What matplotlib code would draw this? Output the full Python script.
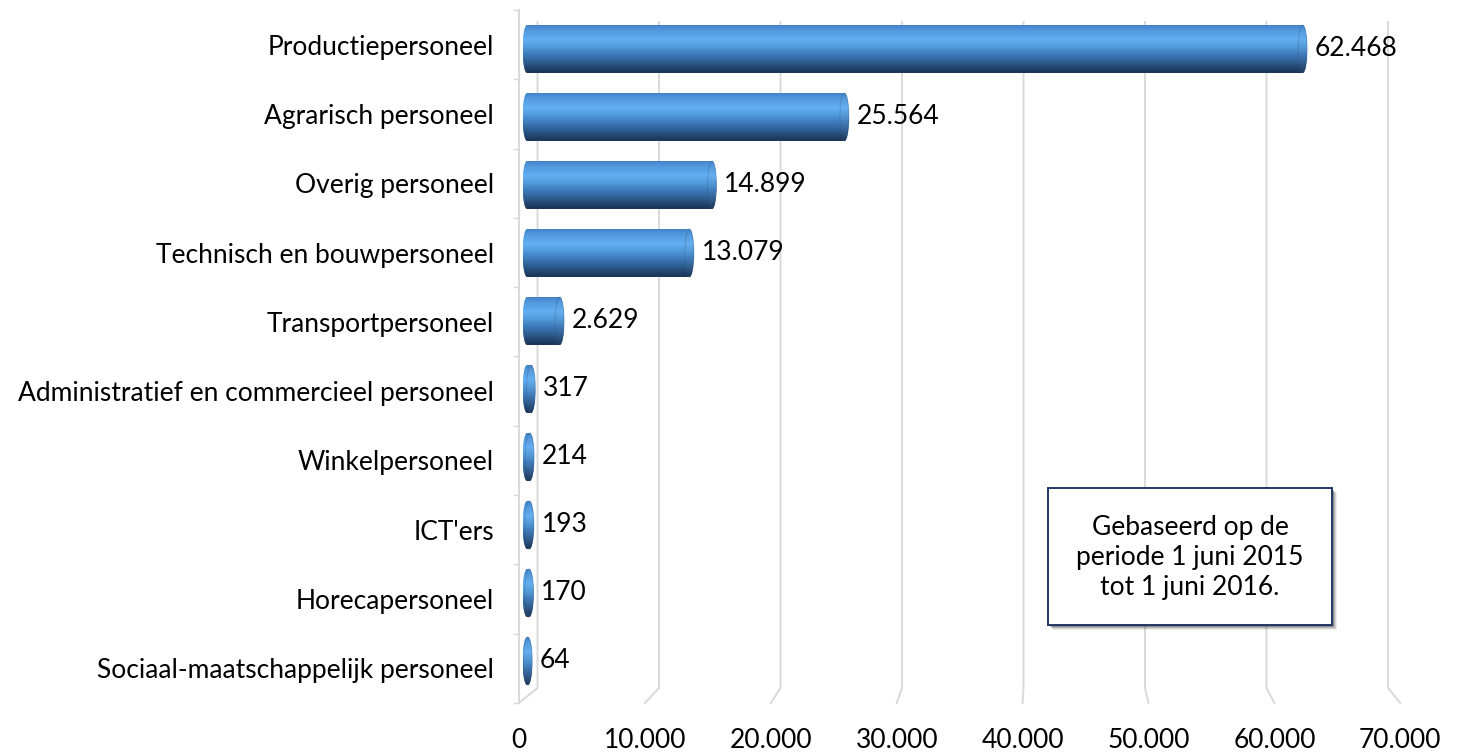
import numpy as np
import matplotlib
matplotlib.use("Agg")
import matplotlib.pyplot as plt
from matplotlib.path import Path
from matplotlib.patches import PathPatch, Ellipse, Rectangle
from matplotlib.colors import to_rgb

# ---------------- data ----------------
categories = [
    "Productiepersoneel",
    "Agrarisch personeel",
    "Overig personeel",
    "Technisch en bouwpersoneel",
    "Transportpersoneel",
    "Administratief en commercieel personeel",
    "Winkelpersoneel",
    "ICT'ers",
    "Horecapersoneel",
    "Sociaal-maatschappelijk personeel",
]
values = [62468, 25564, 14899, 13079, 2629, 317, 214, 193, 170, 64]
x_ticks = [0, 10000, 20000, 30000, 40000, 50000, 60000, 70000]
note_text = "Gebaseerd op de\nperiode 1 juni 2015\ntot 1 juni 2016."


def fmt(v):
    return f"{v:,}".replace(",", ".")


plt.rcParams["font.family"] = ["Lato", "DejaVu Sans"]
FS = 19

W, H = 1470, 752
fig = plt.figure(figsize=(W / 100, H / 100), dpi=100)

# ---------- decoration axes in pixel space (back wall + floor) ----------
axd = fig.add_axes([0, 0, 1, 1], zorder=0)
axd.set_xlim(0, W)
axd.set_ylim(H, 0)
axd.axis("off")

back0, back_k = 537.5, (1388 - 537.5) / 70000
front0, front_k = 519.0, 0.01259
grid_col = "#D9D9D9"
for g in x_ticks:
    xb = back0 + g * back_k
    xf = front0 + g * front_k
    axd.plot([xb, xb, xf], [22, 688, 703], color=grid_col, lw=1.4,
             solid_joinstyle="miter")

# ---------- front axes: category labels, value ticks, left axis ----------
axf = fig.add_axes([front0 / W, (H - 703) / H, (1445 - front0) / W, (703 - 10) / H],
                   zorder=1)
axf.patch.set_visible(False)
axf.set_xlim(0, (1445 - front0) / front_k)
axf.set_ylim(len(categories) - 0.5, -0.5)
for s in ["top", "right", "bottom"]:
    axf.spines[s].set_visible(False)
axf.spines["left"].set_color(grid_col)
axf.spines["left"].set_linewidth(1.4)
axf.set_yticks(range(len(categories)))
axf.set_yticklabels(categories, fontsize=FS)
axf.set_yticks(np.arange(-0.5, len(categories), 1.0), minor=True)
axf.tick_params(axis="y", which="major", length=0, pad=18)
axf.tick_params(axis="y", which="minor", length=4.5, width=1.0, color=grid_col,
                direction="out")
axf.set_xticks(x_ticks)
axf.set_xticklabels([fmt(t) for t in x_ticks], fontsize=FS)
axf.tick_params(axis="x", length=0, pad=18)

# ---------- main axes: cylinders ----------
bar_x0, bar_k = 527.0, 0.012417
bar_y0, bar_dy = 49.0, 68.0
axm = fig.add_axes([0, 0, 1, 1], zorder=2)
axm.patch.set_visible(False)
axm.axis("off")
xlim = (-bar_x0 / bar_k, (W - bar_x0) / bar_k)
ylim = ((H - bar_y0) / bar_dy, -bar_y0 / bar_dy)

h = 48.0 / bar_dy          # bar thickness in category units
a = 4.5 / bar_k            # cap half-width in value units

stops = [0.00, 0.12, 0.30, 0.45, 0.60, 0.78, 0.92, 1.00]
cols = ["#4482C8", "#529ADF", "#62AFF3", "#529BDD", "#3F7DBE", "#2D5C8F", "#1F3F66",
        "#1B3556"]
rgb = np.array([to_rgb(c) for c in cols])
tt = np.linspace(0, 1, 256)
grad = np.stack([np.interp(tt, stops, rgb[:, j]) for j in range(3)], axis=1)
grad_img = grad[:, None, :]
face_img = np.clip(grad_img * 0.95 + 0.03, 0, 1)

th = np.linspace(-np.pi / 2, np.pi / 2, 60)
for i, v in enumerate(values):
    yc = i
    right = [(v + a * np.cos(t), yc + (h / 2) * np.sin(t)) for t in th]
    left = [(0 - a * np.cos(t), yc - (h / 2) * np.sin(t)) for t in th]
    verts = right + left + [right[0]]
    codes = [Path.MOVETO] + [Path.LINETO] * (len(verts) - 2) + [Path.CLOSEPOLY]
    body = PathPatch(Path(verts, codes), facecolor="none", edgecolor="none")
    axm.add_patch(body)
    im = axm.imshow(grad_img, extent=(-a, v + a, yc + h / 2, yc - h / 2),
                    origin="upper", aspect="auto", interpolation="bilinear",
                    zorder=2)
    im.set_clip_path(body)
    face = Ellipse((v, yc), 2 * a, h, facecolor="none", edgecolor="none")
    axm.add_patch(face)
    im2 = axm.imshow(face_img, extent=(v - a, v + a, yc + h / 2, yc - h / 2),
                     origin="upper", aspect="auto", interpolation="bilinear",
                     zorder=3)
    im2.set_clip_path(face)
    axm.add_patch(Ellipse((v, yc), 2 * a, h, facecolor="none",
                          edgecolor="#2A568A", lw=0.7, alpha=0.3, zorder=4))
    axm.annotate(fmt(v), xy=(v, yc), xytext=(12 * 0.72, 0),
                 textcoords="offset points", ha="left", va="center",
                 fontsize=FS, color="black", zorder=5)

axm.set_xlim(*xlim)
axm.set_ylim(*ylim)

# ---------- note box ----------
axt = fig.add_axes([0, 0, 1, 1], zorder=3)
axt.set_xlim(0, W)
axt.set_ylim(H, 0)
axt.axis("off")
bx0, by0, bx1, by1 = 1048, 488, 1332, 625
for k, al in zip([6, 5, 4, 3, 2], [0.08, 0.12, 0.18, 0.25, 0.3]):
    axt.add_patch(Rectangle((bx0 + k - 1, by0 + k - 1), bx1 - bx0, by1 - by0,
                            facecolor="#202020", edgecolor="none", alpha=al))
axt.add_patch(Rectangle((bx0, by0), bx1 - bx0, by1 - by0, facecolor="white",
                        edgecolor="#1F3864", lw=1.4))
axt.text((bx0 + bx1) / 2, (by0 + by1) / 2 + 1, note_text, ha="center", va="center",
         fontsize=FS, linespacing=1.25, color="black")

fig.savefig("out.png", dpi=100)
